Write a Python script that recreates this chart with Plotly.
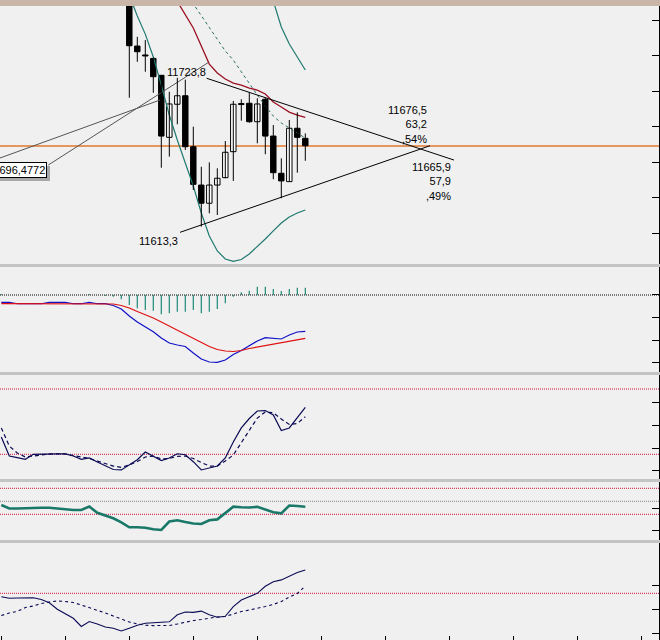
import plotly.graph_objects as go

FIG_W, FIG_H = 660, 640
PLOT_RIGHT = 659

# ---------------- data ----------------
n_bars = 39
bars = list(range(n_bars))
candle_start = 16

c_open = [11789.1, 11746.2, 11739.9, 11737.5, 11725.6, 11681.9, 11705.2, 11711.2, 11675.3, 11648.3, 11635.5, 11648.3,
          11653.5, 11671.8, 11705.7, 11705.9, 11692.9, 11708.7, 11682.8, 11656.6, 11650.7, 11688.3, 11681.2]
c_high = [11796.2, 11752.7, 11750.4, 11738.1, 11725.8, 11714.0, 11723.8, 11722.5, 11689.4, 11661.2, 11664.3, 11660.1,
          11679.3, 11707.5, 11708.7, 11713.6, 11709.4, 11709.8, 11690.6, 11667.1, 11694.1, 11699.5, 11684.7]
c_low = [11709.8, 11735.1, 11728.1, 11713.3, 11660.5, 11668.3, 11691.1, 11673.0, 11644.8, 11619.0, 11628.4, 11627.2,
         11653.1, 11651.2, 11693.6, 11692.2, 11677.7, 11670.0, 11652.4, 11639.0, 11650.5, 11657.0, 11665.4]
c_close = [11746.4, 11742.2, 11739.2, 11724.6, 11682.8, 11705.4, 11711.2, 11675.3, 11648.8, 11635.5, 11648.3, 11653.1,
           11671.4, 11705.2, 11705.0, 11692.9, 11705.4, 11682.8, 11657.0, 11651.2, 11688.3, 11681.9, 11676.0]

bb_lower_start = 16
bb_lower = [11782.1, 11767.3, 11754.6, 11738.5, 11718.7, 11697.6, 11680.0, 11663.1, 11647.6, 11628.6, 11612.4, 11601.9,
            11596.2, 11594.5, 11595.9, 11599.8, 11604.7, 11610.3, 11616.0, 11621.6, 11625.8, 11628.6, 11630.7]
bb_mid_start = 23
bb_mid = [11784.2, 11775.8, 11768.0, 11759.6, 11750.4, 11742.7, 11736.3, 11727.9, 11719.4, 11711.7, 11704.0, 11696.9,
          11692.0, 11688.5, 11684.9, 11681.4]
bb_upper_start = 33
bb_upper = [11796.2, 11777.9, 11759.6, 11747.6, 11738.5, 11729.3]
ma_start = 21
ma_red = [11787.0, 11777.9, 11768.0, 11758.9, 11746.2, 11733.5, 11727.2, 11723.0, 11720.1, 11718.7, 11716.6, 11715.2,
          11712.4, 11706.8, 11703.3, 11699.7, 11697.6, 11695.9]

orange_level = 11675.8

# triangle trend lines (bar index, price)
tri_upper_x = [25.67, 56.59]
tri_upper_y = [11723.5, 11665.9]
tri_lower_x = [22.34, 53.59]
tri_lower_y = [11615.0, 11676.0]
# callout lines of the value label
call_a_x = [-2.0, 19.84]
call_a_y = [11663.6, 11708.2]
call_b_x = [5.875, 25.875]
call_b_y = [11662.4, 11734.6]

label_high = "11723,8"
label_low = "11613,3"
label_up_block = ["11676,5", "63,2", ",54%"]
label_dn_block = ["11665,9", "57,9", ",49%"]
label_value = "11696,4772"

macd_line = [-1.85, -1.85, -2.18, -2.18, -2.18, -2.18, -1.85, -1.85, -1.85, -2.18, -2.18, -1.85, -2.18, -2.18,
             -2.63, -3.50, -5.25, -6.75, -8.00, -9.18, -10.75, -12.00, -12.50, -12.88, -14.50, -16.00, -16.75,
             -16.83, -16.25, -14.88, -13.88, -12.63, -11.50, -10.68, -10.88, -11.00, -10.00, -9.25, -9.08]
signal_line = [-2.18] * 14 + [-2.25, -2.63, -3.25, -4.13, -4.88, -5.75, -6.75, -7.75, -8.75, -9.75, -10.75, -11.75,
                              -12.88, -13.63, -14.00, -14.13, -13.88, -13.38, -13.00, -12.63, -12.38, -12.00, -11.63,
                              -11.25, -10.83]
macd_hist = [0.25] + [0.0] * 10 + [0.25, 0.0, -0.25, -0.42, -1.08, -2.5, -3.33, -3.75, -3.92, -4.83, -4.58, -4.17,
                                   -4.17, -3.75, -4.58, -4.17, -3.5, -2.08, -0.42, 0.67, 1.08, 2.08, 2.08, 1.5, 1.0,
                                   1.5, 1.83, 1.83]

stoch_k = [35.9, 18.4, 17.0, 15.4, 20.0, 20.3, 20.3, 20.3, 20.3, 18.4, 15.4, 16.6, 12.9, 9.7, 6.0, 5.6, 10.2, 15.0,
           22.1, 18.4, 14.3, 16.6, 20.5, 19.6, 13.2, 5.6, 7.1, 9.2, 16.6, 31.3, 44.2, 52.9, 59.8, 60.2, 56.1, 41.9,
           44.2, 53.3, 63.2]
stoch_d = [44.2, 27.6, 21.2, 17.5, 18.4, 19.3, 20.3, 20.3, 20.3, 18.9, 17.5, 16.1, 13.8, 11.5, 9.2, 8.0, 10.2, 13.4,
           17.5, 18.4, 15.7, 16.1, 18.0, 18.4, 16.1, 12.5, 9.2, 9.2, 13.8, 19.3, 30.4, 42.3, 53.3, 58.9, 58.2, 52.4,
           47.4, 48.3, 54.5]
stoch_levels = [80, 20]

rsi = [44.3, 38.9, 38.9, 39.7, 39.7, 40.0, 40.2, 38.9, 37.4, 36.6, 36.6, 42.0, 32.3, 28.5, 23.9, 17.6, 10.0, 10.0,
       9.4, 6.9, 5.9, 18.9, 20.9, 18.2, 15.9, 15.1, 20.8, 22.2, 31.4, 41.7, 40.8, 40.5, 41.5, 37.4, 33.2, 31.5, 43.5,
       42.8, 41.7]
rsi_levels = [70, 30]
rsi_mid = 50

osc_fast = [-1.7, -2.5, -2.35, -2.25, -2.2, -3.1, -4.75, -7.95, -10.3, -12.5, -16.6, -14.1, -15.4, -16.85, -17.5,
            -18.85, -17.45, -16.0, -14.95, -14.75, -14.55, -14.25, -10.75, -9.35, -9.55, -8.9, -10.7, -12.0, -11.5,
            -6.7, -3.35, -1.5, 0.0, 3.5, 5.8, 6.7, 8.5, 10.35, 11.65]
osc_slow = [-11.1, -9.85, -9.1, -7.1, -6.35, -5.1, -4.35, -3.85, -4.1, -4.6, -5.85, -7.1, -8.35, -9.85, -11.35,
            -12.85, -14.35, -15.35, -15.95, -16.15, -16.2, -16.1, -15.35, -14.35, -13.6, -13.1, -12.35, -11.85,
            -11.6, -10.35, -9.1, -8.35, -7.6, -6.6, -5.6, -4.1, -1.85, -0.1, 3.65]
osc_level = 0

# axis tick values (no labels visible)
price_tick0, price_dtick = 11614.4, 25
macd_ticks = [0.1, -5.6, -11.25, -16.9]
stoch_ticks = [67.8, 46.9, 25.5, 4.9]
rsi_ticks = [39.2, 5.4]
osc_ticks = [4.15, -7.85, -20.0]
time_ticks = list(range(0, 81, 8))

# ---------------- figure ----------------
def pyf(px):
    return 1 - px / FIG_H

FONT = "Liberation Sans, Arial, sans-serif"
TEAL = "#1f7a70"
NAVY = "#0a0a55"

fig = go.Figure()

def seg(xs, y0s, y1s):
    X, Y = [], []
    for x, a, b in zip(xs, y0s, y1s):
        X += [x, x, None]
        Y += [a, b, None]
    return X, Y

cx = bars[candle_start:candle_start + len(c_open)]

# Bollinger / MA
fig.add_trace(go.Scatter(x=bars[bb_lower_start:bb_lower_start + len(bb_lower)], y=bb_lower, mode="lines",
                         line=dict(color=TEAL, width=1.2), yaxis="y"))
fig.add_trace(go.Scatter(x=bars[bb_upper_start:bb_upper_start + len(bb_upper)], y=bb_upper, mode="lines",
                         line=dict(color=TEAL, width=1.2), yaxis="y"))
fig.add_trace(go.Scatter(x=bars[bb_mid_start:bb_mid_start + len(bb_mid)], y=bb_mid, mode="lines",
                         line=dict(color="#2a6e62", width=1, dash="3px,3px"), yaxis="y"))
fig.add_trace(go.Scatter(x=bars[ma_start:ma_start + len(ma_red)], y=ma_red, mode="lines",
                         line=dict(color="#9a1020", width=1.3), yaxis="y"))

# callout lines and triangle
fig.add_trace(go.Scatter(x=call_a_x, y=call_a_y, mode="lines", line=dict(color="#555555", width=1), yaxis="y"))
fig.add_trace(go.Scatter(x=call_b_x, y=call_b_y, mode="lines", line=dict(color="#555555", width=1), yaxis="y"))
fig.add_trace(go.Scatter(x=tri_upper_x, y=tri_upper_y, mode="lines", line=dict(color="black", width=1), yaxis="y"))
fig.add_trace(go.Scatter(x=tri_lower_x, y=tri_lower_y, mode="lines", line=dict(color="black", width=1), yaxis="y"))

# candles
wx, wy = seg(cx, c_low, c_high)
fig.add_trace(go.Scatter(x=wx, y=wy, mode="lines", line=dict(color="black", width=1), yaxis="y"))
body_base = [min(o, c) for o, c in zip(c_open, c_close)]
body_h = [max(abs(c - o), 0.7) for o, c in zip(c_open, c_close)]
body_col = ["white" if c > o else "black" for o, c in zip(c_open, c_close)]
fig.add_trace(go.Bar(x=cx, y=body_h, base=body_base, width=0.68, marker=dict(color=body_col,
                     line=dict(color="black", width=1)), yaxis="y"))

# MACD
hx, hy = seg(bars, [0] * n_bars, macd_hist)
fig.add_trace(go.Scatter(x=hx, y=hy, mode="lines", line=dict(color="#1f8a78", width=1.2), yaxis="y2"))
fig.add_trace(go.Scatter(x=bars, y=macd_line, mode="lines", line=dict(color="#1010c8", width=1.2), yaxis="y2"))
fig.add_trace(go.Scatter(x=bars, y=signal_line, mode="lines", line=dict(color="#e01010", width=1.2), yaxis="y2"))

# Stochastic
fig.add_trace(go.Scatter(x=bars, y=stoch_d, mode="lines", line=dict(color=NAVY, width=1.2, dash="4px,3px"), yaxis="y3"))
fig.add_trace(go.Scatter(x=bars, y=stoch_k, mode="lines", line=dict(color=NAVY, width=1.2), yaxis="y3"))

# RSI-like
fig.add_trace(go.Scatter(x=bars, y=rsi, mode="lines", line=dict(color="#1a7868", width=2.6), yaxis="y4"))

# bottom oscillator
fig.add_trace(go.Scatter(x=bars, y=osc_slow, mode="lines", line=dict(color=NAVY, width=1.1, dash="3px,3px"), yaxis="y5"))
fig.add_trace(go.Scatter(x=bars, y=osc_fast, mode="lines", line=dict(color=NAVY, width=1.1), yaxis="y5"))

shapes = []
XR = PLOT_RIGHT / FIG_W
def hline(yref, val, color, dash="1px,1px", width=1):
    shapes.append(dict(type="line", xref="paper", x0=0, x1=XR, yref=yref, y0=val, y1=val,
                       line=dict(color=color, width=width, dash=dash), layer="below"))

shapes.append(dict(type="line", xref="paper", x0=0, x1=XR, yref="y", y0=orange_level, y1=orange_level,
                   line=dict(color="#e2782c", width=1.5), layer="below"))
hline("y2", 0, "black")
for v in stoch_levels:
    hline("y3", v, "#d0103a")
for v in rsi_levels:
    hline("y4", v, "#d0103a")
hline("y4", rsi_mid, "#808080")
hline("y5", osc_level, "#d0103a")

# panel separators and window top strip
for top, bot in [(264, 267), (372, 375), (479, 482), (540, 543)]:
    shapes.append(dict(type="rect", xref="paper", yref="paper", x0=0, x1=1, y0=pyf(bot), y1=pyf(top),
                       fillcolor="#c4c4c4", line=dict(width=0), layer="above"))
shapes.append(dict(type="rect", xref="paper", yref="paper", x0=0, x1=1, y0=pyf(6), y1=1,
                   fillcolor="#cab6a8", line=dict(width=0), layer="above"))
# label shadow
shapes.append(dict(type="rect", xref="paper", yref="paper", x0=0, x1=50 / FIG_W, y0=pyf(181), y1=pyf(166),
                   fillcolor="#a8a8a8", line=dict(width=0), layer="above"))

tf = dict(family=FONT, size=11, color="black")
annotations = [
    dict(x=23.1, y=c_high[6], xref="x", yref="y", text=label_high, showarrow=False, font=tf,
         xanchor="center", yanchor="middle", yshift=6),
    dict(x=tri_lower_x[0], y=11613.3, xref="x", yref="y", text=label_low, showarrow=False, font=tf,
         xanchor="right", yanchor="middle", yshift=-6),
    dict(x=tri_lower_x[1], y=tri_lower_y[1], xref="x", yref="y", text="<br>".join(label_up_block),
         showarrow=False, font=tf, xanchor="right", yanchor="bottom", align="right", xshift=-2, borderpad=0),
    dict(x=tri_upper_x[1], y=tri_upper_y[1], xref="x", yref="y", text="<br>".join(label_dn_block),
         showarrow=False, font=tf, xanchor="right", yanchor="top", align="right", xshift=-2, borderpad=0),
    dict(x=46.7 / FIG_W, y=pyf(170.5), xref="paper", yref="paper", text=label_value, showarrow=False,
         font=tf, xanchor="right", yanchor="middle", bgcolor="white", bordercolor="black", borderwidth=1,
         borderpad=1),
]

def yax(domain, rng, **kw):
    d = dict(domain=domain, range=rng, anchor="x", side="right", showgrid=False, zeroline=False,
             showticklabels=False, ticks="inside", ticklen=7, tickcolor="black", tickwidth=1,
             showline=True, linecolor="black", linewidth=1, fixedrange=True)
    d.update(kw)
    return d

fig.update_layout(
    width=FIG_W, height=FIG_H, margin=dict(l=0, r=0, t=0, b=0),
    paper_bgcolor="#f0f0f0", plot_bgcolor="#f0f0f0", showlegend=False, barmode="overlay",
    xaxis=dict(domain=[0, XR], range=[-1.3 / 8, (PLOT_RIGHT - 1.3) / 8], anchor="y5", showgrid=False,
               zeroline=False, showticklabels=False, ticks="inside", ticklen=4, tickcolor="black",
               tickvals=time_ticks, showline=False),
    yaxis=yax([pyf(264), pyf(6)], [11592.7, 11774.4], tick0=price_tick0, dtick=price_dtick),
    yaxis2=yax([pyf(372), pyf(267)], [-19.25, 7.0], tickvals=macd_ticks),
    yaxis3=yax([pyf(479), pyf(375)], [-2.71, 92.87], tickvals=stoch_ticks),
    yaxis4=yax([pyf(540), pyf(482)], [-9.51, 79.69], tickvals=rsi_ticks),
    yaxis5=yax([0, pyf(543)], [-23.35, 25.15], tickvals=osc_ticks),
    shapes=shapes, annotations=annotations,
)

fig.write_html("out.html")
